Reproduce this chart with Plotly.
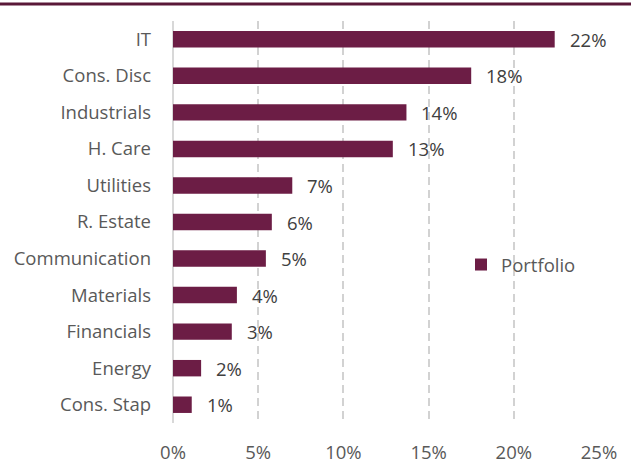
import plotly.graph_objects as go

categories = ["IT", "Cons. Disc", "Industrials", "H. Care", "Utilities", "R. Estate",
              "Communication", "Materials", "Financials", "Energy", "Cons. Stap"]
portfolio = [22.4, 17.5, 13.7, 12.9, 7.0, 5.8, 5.45, 3.75, 3.45, 1.65, 1.1]
x_ticks = [0, 5, 10, 15, 20, 25]
x_ticklabels = ["0%", "5%", "10%", "15%", "20%", "25%"]

BAR = "#6c1d45"
TXT = "#595959"
FONT = "Open Sans"
FS = 18.5

W, H = 631, 463
ML, MR, MT, MB = 173, 32, 21, 40
pw = W - ML - MR
ph = H - MT - MB

fig = go.Figure()
fig.add_trace(go.Bar(
    y=categories, x=portfolio, orientation="h", name="Portfolio",
    marker=dict(color=BAR, line=dict(width=0)),
))

for c, v in zip(categories, portfolio):
    fig.add_annotation(x=v, y=c, text=f"{round(v):.0f}%", showarrow=False,
                       xanchor="left", xshift=13, yshift=0,
                       font=dict(family=FONT, size=FS, color="#404040"))

fig.add_shape(type="line", xref="paper", yref="paper",
              x0=-ML / pw, x1=1 + MR / pw, y0=1 + 17 / ph, y1=1 + 17 / ph,
              line=dict(color="#5a1838", width=3))

fig.update_layout(
    width=W, height=H,
    margin=dict(l=ML, r=MR, t=MT, b=MB, autoexpand=False),
    paper_bgcolor="white", plot_bgcolor="white",
    bargap=0.55,
    font=dict(family=FONT, size=FS, color=TXT),
    showlegend=True,
    legend=dict(x=(461 - ML) / pw, y=1 - (265 - MT) / ph, xanchor="left", yanchor="middle",
                font=dict(family=FONT, size=FS, color=TXT),
                bgcolor="rgba(0,0,0,0)", itemwidth=30),
    xaxis=dict(range=[0, 25], tickvals=x_ticks, ticktext=x_ticklabels,
               showgrid=True, gridcolor="#d2d2d2", griddash="8px,5px", gridwidth=1.5,
               zeroline=True, zerolinecolor="#d8d8d8", zerolinewidth=1.5,
               showline=False, ticks="", ticklabelstandoff=16, automargin=False,
               tickfont=dict(family=FONT, size=FS, color=TXT)),
    yaxis=dict(autorange="reversed", showgrid=False, showline=False, ticks="",
               ticklabelstandoff=21, automargin=False,
               tickfont=dict(family=FONT, size=FS, color=TXT)),
)

fig.write_html("out.html", config={"displayModeBar": False},
               post_script="document.body.style.margin='0';")
